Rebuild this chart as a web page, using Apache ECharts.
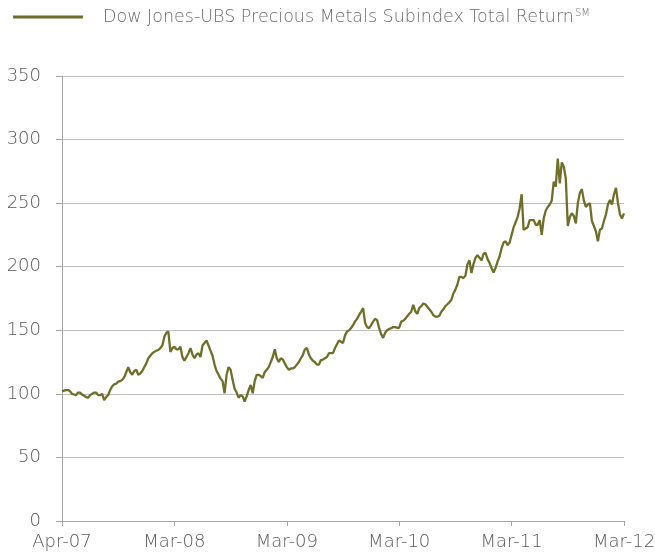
<!DOCTYPE html>
<html>
<head>
<meta charset="utf-8">
<script src="https://cdn.jsdelivr.net/npm/echarts@6/dist/echarts.min.js"></script>
<style>
  html, body { margin: 0; padding: 0; background: #fff; }
  #chart { width: 655px; height: 555px; }
</style>
</head>
<body>
<div id="chart"></div>
<script>
// series name and tick labels
var seriesName = 'Dow Jones-UBS Precious Metals Subindex Total Return';
var tickLabels = ['Apr-07', 'Mar-08', 'Mar-09', 'Mar-10', 'Mar-11', 'Mar-12'];

// index level at even steps from Apr-07 to Mar-12
var values = [
    102, 102.5, 103, 103, 102, 100, 99.5, 99, 101, 101,
    99.5, 98.5, 97.5, 97, 99, 100, 101, 101, 99, 99,
    100, 95, 97.5, 99, 103, 106, 107.5, 108, 109.6, 110,
    111, 113, 117, 121, 117, 115, 118, 119, 115, 116,
    118, 121, 124, 128, 130, 132, 133, 134, 134.5, 136,
    138, 145, 148, 149, 133, 136, 137, 135, 135, 137,
    129, 126, 129, 132, 136, 131, 128, 131, 132, 129,
    138, 140, 142, 138, 134, 130, 123, 118, 115, 112,
    110, 100.5, 115, 121, 119, 111, 104, 101, 97, 99,
    98, 94, 98, 103, 107, 100.5, 110, 115, 115, 114,
    112.5, 117, 119, 121, 125, 129, 135, 128, 125, 128,
    127, 124, 121, 119, 120, 120, 121, 123, 125, 128,
    130.5, 135, 136, 131, 128, 126, 125, 123, 123, 126.6,
    127, 128, 129, 132, 132, 132, 136, 139, 142, 141,
    140, 146, 149, 150, 151.7, 154, 157, 159, 162, 164.6,
    167.5, 156, 152.5, 151.7, 154, 156.8, 159, 158, 151.7, 147,
    144, 148, 150, 151, 151.7, 152.5, 152.5, 152, 152, 156.8,
    157.5, 159, 161, 163, 164.6, 170, 165, 163, 167.5, 169,
    171, 170.5, 168.5, 166.5, 164.6, 162, 160.7, 160.7, 161.5, 164.6,
    166.5, 169, 170.5, 172, 174, 179, 182, 186, 192, 192,
    191, 193, 202, 205, 195, 202, 207, 209, 207, 205,
    210, 211, 206, 203, 199, 195.5, 199, 204, 208, 214.5,
    219, 220, 217, 219, 225, 231, 235, 239, 246, 257,
    229, 230, 231, 236.7, 236.7, 236.7, 233, 233, 236.7, 225,
    238, 244, 247, 249, 252, 266.9, 263, 285, 265.6, 282,
    278.7, 269.5, 232, 239, 242, 240, 234, 250, 258, 261,
    252, 247, 249, 250, 236, 232, 228, 220, 229, 230,
    236, 241, 249, 252.5, 249, 257, 262, 250, 241, 238,
    242
];

var labelStep = (values.length - 1) / (tickLabels.length - 1);
var categories = values.map(function (v, i) {
    return i % labelStep === 0 ? tickLabels[i / labelStep] : '';
});

var font = 'DejaVu Sans';
var lineColor = '#6f6f2a';
var chart = echarts.init(document.getElementById('chart'));

var option = {
    animation: false,
    textStyle: { fontFamily: font, fontWeight: 200 },
    // legend drawn by hand so the key line and text sit where the original has them
    graphic: [
        {
            type: 'line',
            shape: { x1: 13, y1: 17, x2: 83, y2: 17 },
            style: { stroke: lineColor, lineWidth: 3 }
        },
        {
            type: 'text',
            left: 103,
            top: 8,
            style: {
                text: '{a|' + seriesName + '}{s|SM}',
                rich: {
                    a: { fontSize: 17.5, fill: '#6b6b6b', fontFamily: font, fontWeight: 200 },
                    s: { fontSize: 10, fill: '#6b6b6b', fontFamily: font, fontWeight: 200, padding: [0, 0, 9, 1] }
                }
            }
        }
    ],
    grid: { left: 62, right: 31, top: 76, bottom: 34, outerBoundsMode: 'none' },
    xAxis: {
        type: 'category',
        boundaryGap: false,
        data: categories,
        axisLine: { lineStyle: { color: '#a6a6a6', width: 1 } },
        axisTick: { interval: labelStep - 1, length: 5, lineStyle: { color: '#a6a6a6' } },
        axisLabel: {
            interval: labelStep - 1,
            color: '#595959',
            fontSize: 18,
            margin: 12,
            fontFamily: font,
            fontWeight: 200
        },
        splitLine: { show: false }
    },
    yAxis: {
        type: 'value',
        min: 0,
        max: 350,
        interval: 50,
        axisLine: { show: true, lineStyle: { color: '#a6a6a6', width: 1 } },
        axisTick: { show: true, length: 6, lineStyle: { color: '#a6a6a6' } },
        axisLabel: { color: '#595959', fontSize: 18, margin: 21, fontFamily: font, fontWeight: 200 },
        splitLine: { lineStyle: { color: '#bfbfbf', width: 1 } }
    },
    series: [{
        name: seriesName,
        type: 'line',
        data: values,
        showSymbol: false,
        symbol: 'none',
        lineStyle: { color: lineColor, width: 2.3 },
        itemStyle: { color: lineColor }
    }]
};

chart.setOption(option);
</script>
</body>
</html>
